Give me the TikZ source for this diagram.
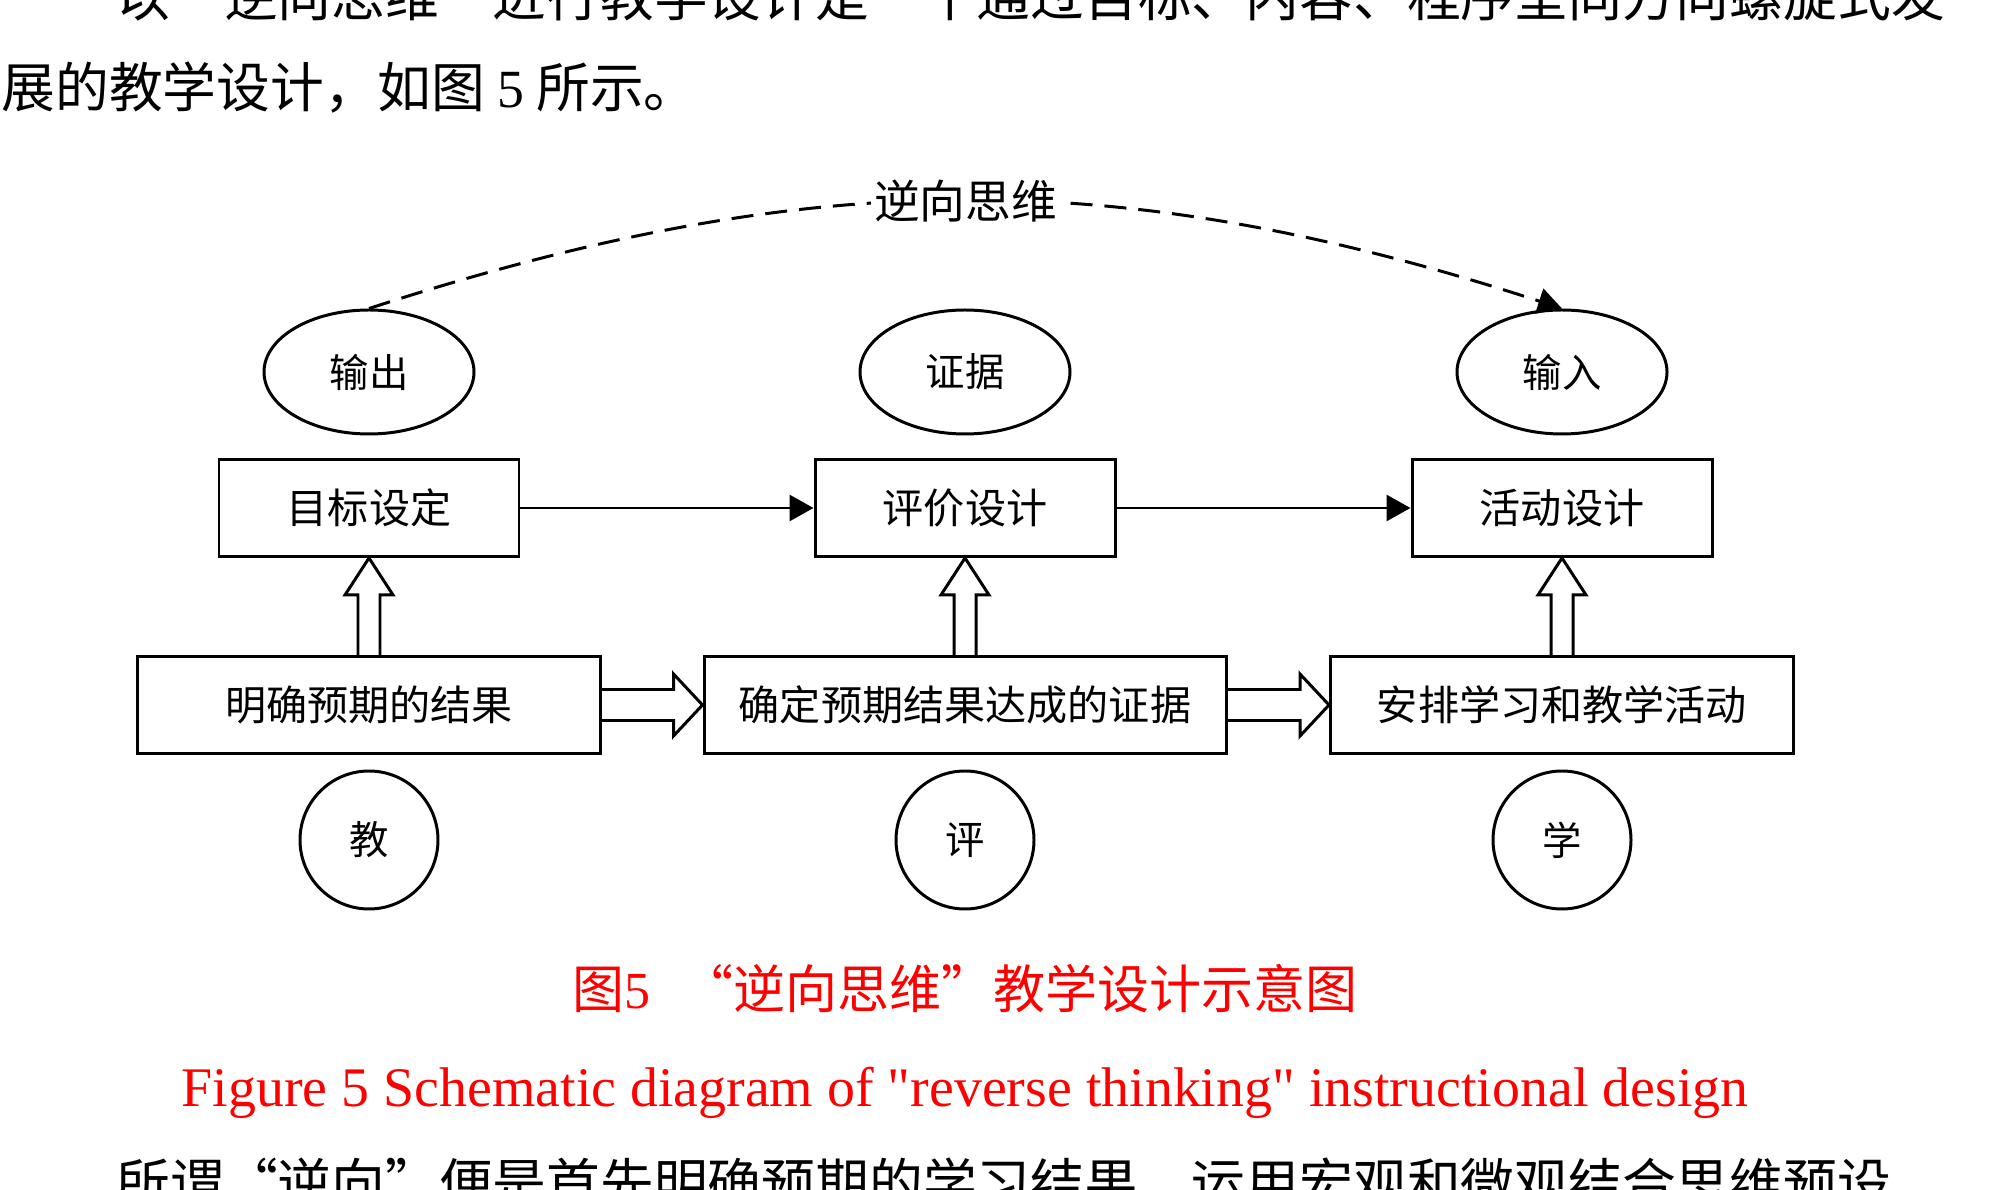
\documentclass[tikz,border=0pt]{standalone}
\usepackage{fontspec}
\setmainfont{Noto Sans CJK SC}
\newfontfamily\enfont{Liberation Serif}
\usetikzlibrary{arrows.meta, calc, shapes.geometric}

\begin{document}
\begin{tikzpicture}[line width=0.85pt, >={Triangle[length=0.24cm,width=0.26cm]},
        kuang/.style={draw, minimum height=0.97cm, inner sep=0pt, font=\fontsize{11.7}{13}\selectfont},
        tuoyuan/.style={draw, ellipse, minimum width=2.1cm, minimum height=1.24cm, inner sep=0pt, font=\fontsize{11.2}{13}\selectfont},
        yuan/.style={draw, circle, minimum size=1.38cm, inner sep=0pt, font=\fontsize{11.2}{13}\selectfont},
        zhengwen/.style={anchor=west, inner sep=0pt, font=\fontsize{15.3}{17}\selectfont},
        tizhu/.style={red, inner sep=0pt, font=\fontsize{14.8}{17}\selectfont}]

        \useasboundingbox (0,0) rectangle (20,-11.9);

        % 正文（上下两段被裁切）
        \node[zhengwen] (duan1) at (1.15,0.04) {以“逆向思维”进行教学设计是一个通过目标、内容、程序呈同方向螺旋式发};
        \node[zhengwen] (duan2) at (0,-0.88) {展的教学设计，如图 {\enfont 5} 所示。};
        \node[zhengwen] (duan3) at (1.15,-11.84) {所谓“逆向”便是首先明确预期的学习结果，运用宏观和微观结合思维预设};

        % 上方椭圆
        \node[tuoyuan] (shuchu) at (3.69,-3.72) {输出};
        \node[tuoyuan] (zhengju) at (9.65,-3.72) {证据};
        \node[tuoyuan] (shuru) at (15.62,-3.72) {输入};

        % 上排方框
        \node[kuang, minimum width=3cm] (mubiao) at (3.69,-5.08) {目标设定};
        \node[kuang, minimum width=3cm] (pingjia) at (9.65,-5.08) {评价设计};
        \node[kuang, minimum width=3cm] (huodong) at (15.62,-5.08) {活动设计};

        % 下排方框
        \node[kuang, minimum width=4.63cm] (mingque) at (3.69,-7.05) {明确预期的结果};
        \node[kuang, minimum width=5.22cm] (queding) at (9.65,-7.05) {确定预期结果达成的证据};
        \node[kuang, minimum width=4.63cm] (anpai) at (15.62,-7.05) {安排学习和教学活动};

        % 下方圆圈
        \node[yuan] (jiao) at (3.69,-8.4) {教};
        \node[yuan] (ping) at (9.65,-8.4) {评};
        \node[yuan] (xue) at (15.62,-8.4) {学};

        % 逆向思维（虚线弧）
        \draw[->, dash pattern=on 0.22cm off 0.12cm] (shuchu.north) to[bend left=18]
            node[fill=white, inner sep=1pt, font=\fontsize{13}{15}\selectfont] (nixiang) {逆向思维} (shuru.north);

        % 上排实线箭头
        \draw[->] (mubiao) -- (pingjia);
        \draw[->] (pingjia) -- (huodong);

        % 空心箭头（向上）
        \foreach \a/\b in {mingque/mubiao, queding/pingjia, anpai/huodong}
            \draw ($(\a.north)+(-0.11,0)$) -- ($(\b.south)+(-0.11,-0.37)$) -- ++(-0.13,0) -- (\b.south)
                -- ($(\b.south)+(0.24,-0.37)$) -- ++(-0.13,0) -- ($(\a.north)+(0.11,0)$);

        % 空心箭头（向右）
        \foreach \a/\b in {mingque/queding, queding/anpai}
            \draw ($(\a.east)+(0,0.155)$) -- ($(\b.west)+(-0.29,0.155)$) -- ++(0,0.155) -- (\b.west)
                -- ($(\b.west)+(-0.29,-0.31)$) -- ++(0,0.155) -- ($(\a.east)+(0,-0.155)$);

        % 图题
        \node[tizhu] (tuti) at (9.65,-9.89) {图{\enfont 5}\hspace{0.6em}“逆向思维”教学设计示意图};
        \node[tizhu, font=\enfont\fontsize{15.9}{18}\selectfont] (title) at (9.65,-10.93) {Figure 5 Schematic diagram of "reverse thinking" instructional design};

\end{tikzpicture}
\end{document}
